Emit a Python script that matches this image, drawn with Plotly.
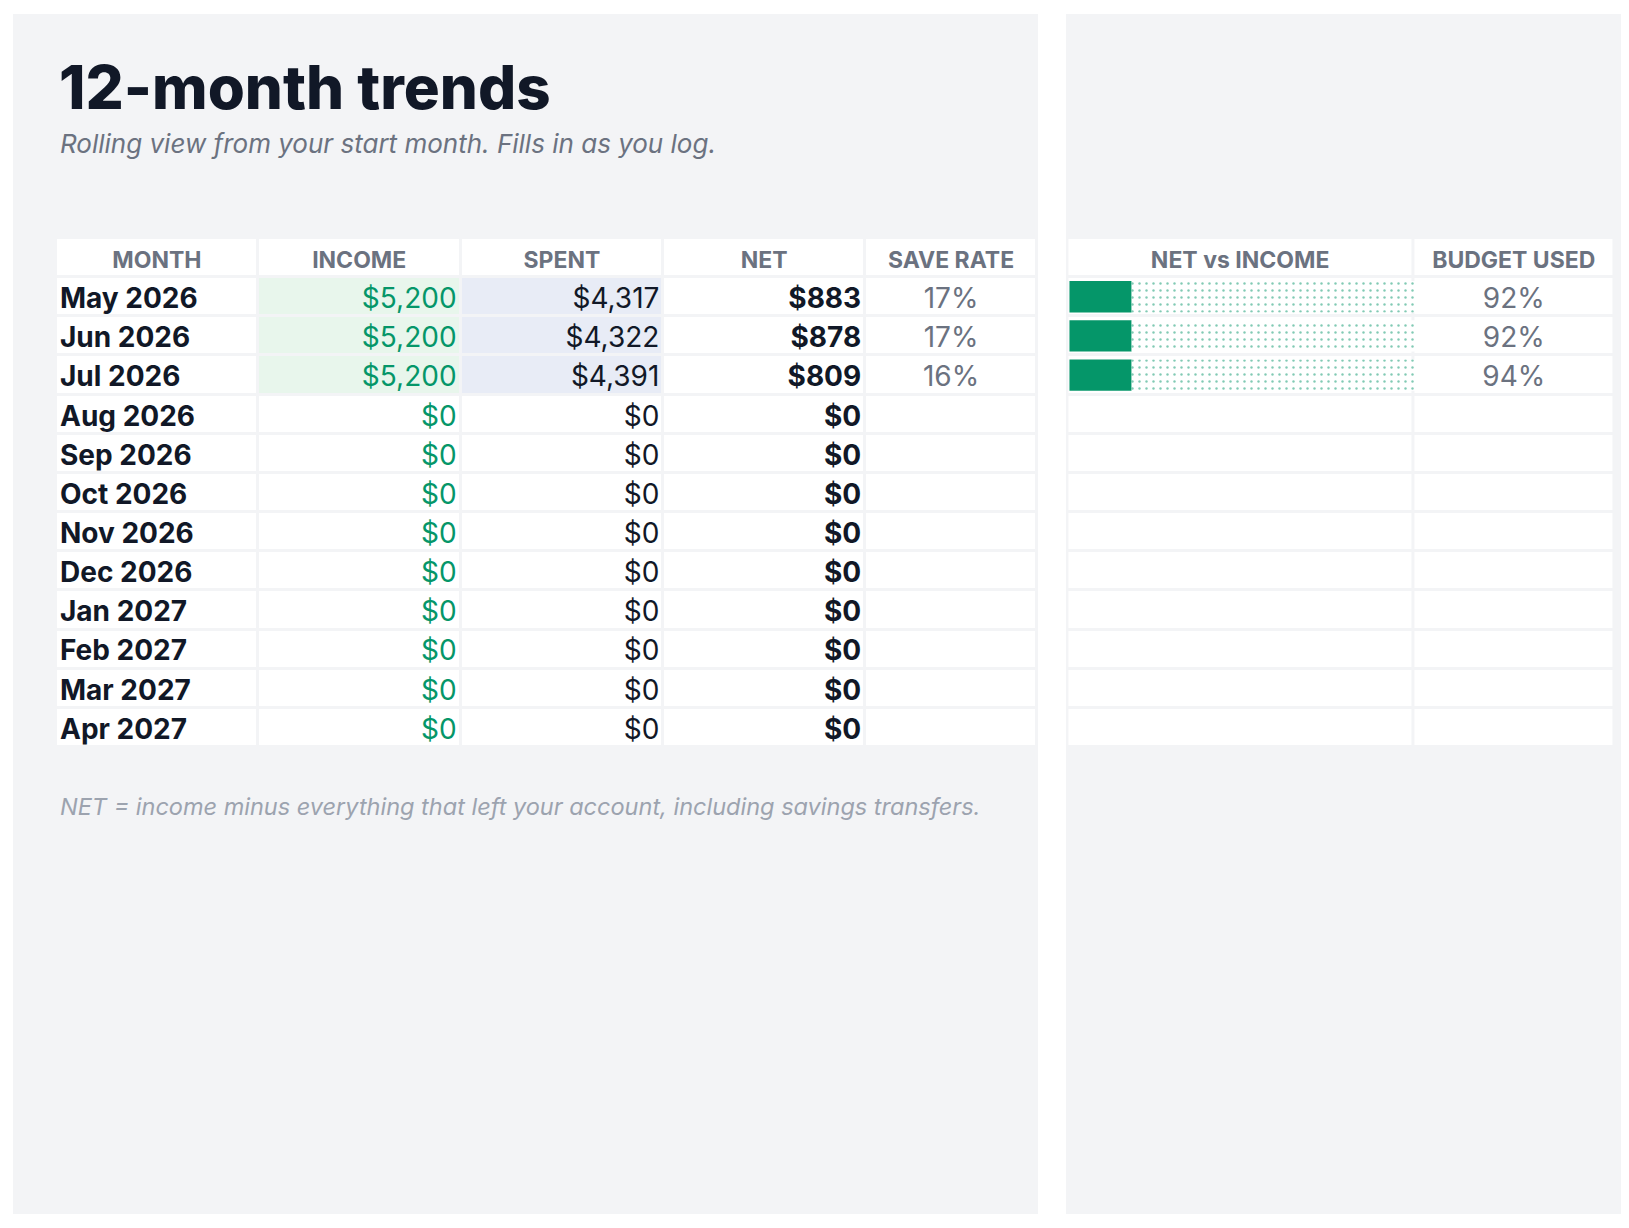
import plotly.graph_objects as go

# ---- data ----
months = ["May 2026", "Jun 2026", "Jul 2026", "Aug 2026", "Sep 2026", "Oct 2026",
          "Nov 2026", "Dec 2026", "Jan 2027", "Feb 2027", "Mar 2027", "Apr 2027"]
income = [5200, 5200, 5200, 0, 0, 0, 0, 0, 0, 0, 0, 0]
spent = [4317, 4322, 4391, 0, 0, 0, 0, 0, 0, 0, 0, 0]
net = [883, 878, 809, 0, 0, 0, 0, 0, 0, 0, 0, 0]
save_rate = [17, 17, 16, None, None, None, None, None, None, None, None, None]
budget_used = [92, 92, 94, None, None, None, None, None, None, None, None, None]
net_vs_income = [0.18, 0.18, 0.18, None, None, None, None, None, None, None, None, None]

headers = ["MONTH", "INCOME", "SPENT", "NET", "SAVE RATE"]
side_headers = ["NET vs INCOME", "BUDGET USED"]

# ---- colours ----
DARK = "#111827"
GREY = "#6b7280"
LIGHT = "#9ca3af"
GREEN = "#059669"
PANEL = "#f3f4f6"
GRID = "#e0e3e9"
GREEN_BG = "#e8f6ec"
BLUE_BG = "#e8ecf6"
FONT = "Inter"

# page body has an 8px margin, so positions below are page pixels minus OFF
OFF = 8
W, H = 1621, 1220


def fx(x):
    return (x - OFF) / W


def fy(y):
    return 1 - (y - OFF) / H


n = len(months)
rows = list(range(1, n + 1))          # row 0 is the header
row_edges = [r - 0.5 for r in range(n + 2)]
logged = [s is not None for s in save_rate]
DY = 0.11                             # nudge text down to sit centred in the row
GAP = 3                               # grid line width between cells

# column widths (px) of the main table -> edges on its own x axis
col_w = [202, 203, 203, 202, 172]
col_edges = [0]
for w in col_w:
    col_edges.append(col_edges[-1] + w)
PAD = 4

# side table: first column spans 0..1 so the bar shares sit on it directly
side_edges = [0, 1, 1 + 202 / 346]

fig = go.Figure()


def text_col(x, y, text, pos, size, color, axes=("x", "y")):
    fig.add_trace(go.Scatter(
        x=x, y=[v + DY for v in y], mode="text", text=text, textposition=pos,
        textfont=dict(family=FONT, size=size, color=color),
        hoverinfo="skip", cliponaxis=False, xaxis=axes[0], yaxis=axes[1],
    ))


# ---- main table cells ----
z_main = [[0] * len(headers)]
for l in logged:
    z_main.append([0, 1 if l else 0, 2 if l else 0, 0, 0])
cell_scale = [[0, "white"], [0.5, GREEN_BG], [1, BLUE_BG]]
fig.add_trace(go.Heatmap(
    z=z_main, x=col_edges, y=row_edges, zmin=0, zmax=2,
    colorscale=cell_scale, showscale=False, xgap=GAP, ygap=GAP,
    hoverinfo="skip", xaxis="x", yaxis="y",
))

centers = [(col_edges[i] + col_edges[i + 1]) / 2 for i in range(len(headers))]
text_col(centers, [0] * len(headers), [f"<b>{h}</b>" for h in headers],
         "middle center", 23, GREY)
text_col([col_edges[0] + PAD] * n, rows, [f"<b>{m}</b>" for m in months],
         "middle right", 28, DARK)
text_col([col_edges[2] - PAD] * n, rows, [f"${v:,}" for v in income],
         "middle left", 28, GREEN)
text_col([col_edges[3] - PAD] * n, rows, [f"${v:,}" for v in spent],
         "middle left", 28, DARK)
text_col([col_edges[4] - PAD] * n, rows, [f"<b>${v:,}</b>" for v in net],
         "middle left", 28, DARK)
text_col([centers[4]] * n, rows, ["" if s is None else f"{s}%" for s in save_rate],
         "middle center", 28, GREY)

# ---- side table cells ----
fig.add_trace(go.Heatmap(
    z=[[0, 0] for _ in range(n + 1)], x=side_edges, y=row_edges, zmin=0, zmax=2,
    colorscale=cell_scale, showscale=False, xgap=GAP, ygap=GAP,
    hoverinfo="skip", xaxis="x2", yaxis="y2",
))

# in-cell bars: solid share of income kept, dotted remainder
bar_rows = [r for r, v in zip(rows, net_vs_income) if v is not None]
share = [v for v in net_vs_income if v is not None]
rest = [1 - v for v in share]
fig.add_trace(go.Bar(
    x=share, y=bar_rows, orientation="h", width=0.8, base=0.006,
    marker=dict(color=GREEN, line=dict(width=0)),
    hoverinfo="skip", xaxis="x2", yaxis="y2",
))
fig.add_trace(go.Bar(
    x=rest, y=bar_rows, orientation="h", width=0.8,
    base=[0.006 + s for s in share],
    marker=dict(color="white", line=dict(width=0),
                pattern=dict(shape=".", fgcolor=GREEN, bgcolor="white",
                             size=7, solidity=0.1)),
    hoverinfo="skip", xaxis="x2", yaxis="y2",
))

side_centers = [(side_edges[i] + side_edges[i + 1]) / 2 for i in range(2)]
text_col(side_centers, [0, 0], [f"<b>{h}</b>" for h in side_headers],
         "middle center", 23, GREY, ("x2", "y2"))
text_col([side_centers[1]] * n, rows,
         ["" if b is None else f"{b}%" for b in budget_used],
         "middle center", 28, GREY, ("x2", "y2"))

hidden = dict(visible=False, fixedrange=True, showgrid=False, zeroline=False)
fig.update_layout(
    width=W,
    height=H,
    margin=dict(l=0, r=0, t=0, b=0),
    paper_bgcolor="white",
    plot_bgcolor=GRID,
    barmode="overlay",
    showlegend=False,
    xaxis=dict(domain=[fx(55), fx(1038)], range=[-1, col_edges[-1] + 1], **hidden),
    yaxis=dict(domain=[fy(747), fy(238)], range=[n + 0.5, -0.5], **hidden),
    xaxis2=dict(domain=[fx(1066), fx(1616)], range=[-0.004, side_edges[-1] + 0.004],
                **hidden),
    yaxis2=dict(domain=[fy(747), fy(238)], range=[n + 0.5, -0.5], **hidden),
    shapes=[
        dict(type="rect", xref="paper", yref="paper", layer="below",
             x0=fx(13), x1=fx(1038), y0=fy(1214), y1=fy(14),
             fillcolor=PANEL, line=dict(width=0)),
        dict(type="rect", xref="paper", yref="paper", layer="below",
             x0=fx(1066), x1=fx(1650), y0=fy(1214), y1=fy(14),
             fillcolor=PANEL, line=dict(width=0)),
    ],
)

fig.add_annotation(
    text="12-month trends", x=fx(57), y=fy(87), xref="paper", yref="paper",
    xanchor="left", yanchor="middle", showarrow=False,
    font=dict(family=FONT, size=60, color=DARK, weight=800),
)
fig.add_annotation(
    text="Rolling view from your start month. Fills in as you log.",
    x=fx(58), y=fy(144), xref="paper", yref="paper",
    xanchor="left", yanchor="middle", showarrow=False,
    font=dict(family=FONT, size=26, color=GREY, style="italic"),
)
fig.add_annotation(
    text="NET = income minus everything that left your account, including savings transfers.",
    x=fx(58), y=fy(806), xref="paper", yref="paper",
    xanchor="left", yanchor="middle", showarrow=False,
    font=dict(family=FONT, size=23.5, color=LIGHT, style="italic"),
)

fig.write_html("out.html")
